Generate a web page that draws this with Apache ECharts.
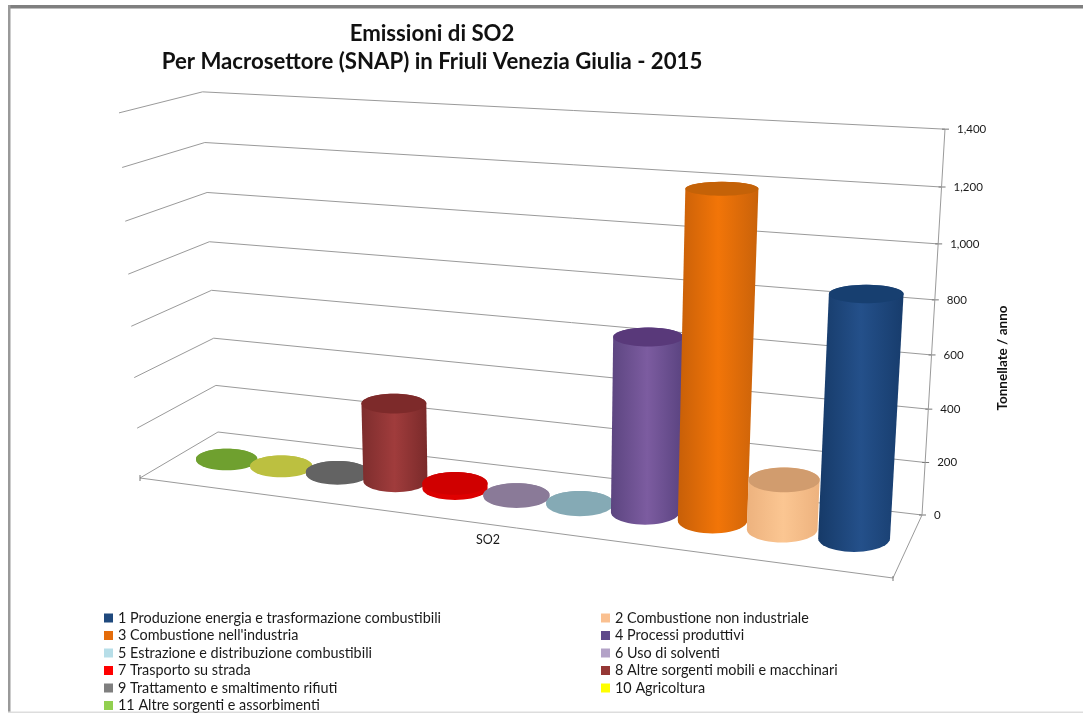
<!DOCTYPE html>
<html><head><meta charset="utf-8">
<style>html,body{margin:0;padding:0;background:#fff}#c{width:1083px;height:713px}</style>
<script src="https://cdn.jsdelivr.net/npm/echarts@6/dist/echarts.min.js"></script>
</head><body><div id="c"></div>
<script>
const categories = ['1 Produzione energia e trasformazione combustibili','2 Combustione non industriale',"3 Combustione nell'industria",'4 Processi produttivi','5 Estrazione e distribuzione combustibili','6 Uso di solventi','7 Trasporto su strada','8 Altre sorgenti mobili e macchinari','9 Trattamento e smaltimento rifiuti','10 Agricoltura','11 Altre sorgenti e assorbimenti'];
const values = [878, 185, 1205, 658, 4, 5, 20, 308, 8, 3, 4];
const yTicks = [0,200,400,600,800,1000,1200,1400];
const yTickLabels = ['0','200','400','600','800','1,000','1,200','1,400'];
const legendColors = ['#1F497D','#FAC090','#E46C0A','#5F4A8B','#B7DEE8','#B3A2C7','#FF0000','#953735','#7F7F7F','#FFFF00','#92D050'];
const sideColors = [['#163A68','#24508A','#173C6C'],['#EDB27E','#FBC692','#EDB27E'],['#C75F08','#F27508','#C9620A'],['#5C4580','#7C5CA0','#5A4380'],['#85AAB5','#85AAB5','#85AAB5'],['#8A7A98','#8A7A98','#8A7A98'],['#D80000','#E00000','#D80000'],['#7D2D2D','#A03C3C','#7A2A2A'],['#636363','#636363','#636363'],['#BCC040','#BCC040','#BCC040'],['#6FA02F','#6FA02F','#6FA02F']];
const capColors = ['#173F70','#D19C6E','#C46208','#59397A','#85AAB5','#8A7A98','#D00000','#7D2A2A','#636363','#BCC040','#6FA02F'];

// Perspective of the 3D box: floor corners on the page, and the vanishing point of the uprights
const floorQuad = [[140,478],[893,578],[922,515],[218,432]]; // front-left, front-right, back-right, back-left
const upVanish = [525,7175];
const riseLeft = -0.0517, riseRight = -0.0497;
const rowDepth = 0.5, radiusU = 0.046, radiusD = 0.22;
const xMin = -0.73, xMax = 10.87;

function homography(q){
  const [p0,p1,p2,p3]=q;
  const dx1=p1[0]-p2[0],dx2=p3[0]-p2[0],sx=p0[0]-p1[0]+p2[0]-p3[0];
  const dy1=p1[1]-p2[1],dy2=p3[1]-p2[1],sy=p0[1]-p1[1]+p2[1]-p3[1];
  const den=dx1*dy2-dx2*dy1;
  const g=(sx*dy2-dx2*sy)/den,h=(dx1*sy-sx*dy1)/den;
  const a=p1[0]-p0[0]+g*p1[0],b=p3[0]-p0[0]+h*p3[0],c=p0[0];
  const d=p1[1]-p0[1]+g*p1[1],e=p3[1]-p0[1]+h*p3[1],f=p0[1];
  return (u,v)=>[a*u+b*v+c,d*u+e*v+f,g*u+h*v+1];
}
const floorH=homography(floorQuad);
function project(u,d,w){
  const [X,Y,W]=floorH(u,d);
  const q=(riseLeft+(riseRight-riseLeft)*u)*w;
  const den=W+q;
  return [(X+q*upVanish[0])/den,(Y+q*upVanish[1])/den];
}
function norm(api,params,x,v){
  const p=api.coord([x,v]),cs=params.coordSys;
  return [(p[0]-cs.x)/cs.width,1-(p[1]-cs.y)/cs.height];
}
function ellipse(u,w){
  const c=project(u,rowDepth,w);
  const l=project(u-radiusU,rowDepth,w),r=project(u+radiusU,rowDepth,w);
  const f=project(u,rowDepth-radiusD,w),b=project(u,rowDepth+radiusD,w);
  return {cx:c[0],cy:c[1],rx:(r[0]-l[0])/2*(1.08-0.17*u),ry:Math.abs(f[1]-b[1])/2};
}
function renderCylinder(idx){
  return function(params,api){
    const [u,w]=norm(api,params,api.value(0),api.value(1));
    const bo=ellipse(u,0),to=ellipse(u,w);
    const c=sideColors[idx];
    const arc=(e,from,to2)=>{const o=[];for(let i=0;i<=24;i++){const a=from+(to2-from)*i/24;o.push([e.cx+e.rx*Math.cos(a),e.cy+e.ry*Math.sin(a)]);}return o;};
    const body=arc(bo,0,Math.PI).concat(arc(to,Math.PI,2*Math.PI));
    return {type:'group',children:[
      {type:'polygon',shape:{points:body},style:{fill:new echarts.graphic.LinearGradient(0,0,1,0,[{offset:0,color:c[0]},{offset:0.5,color:c[1]},{offset:1,color:c[2]}])}},
      {type:'ellipse',shape:{cx:to.cx,cy:to.cy,rx:to.rx,ry:to.ry},style:{fill:capColors[idx]}}
    ]};
  };
}
function renderWall(params,api){
  const [,w]=norm(api,params,0,api.value(1));
  const a=project(0,0,w),b=project(0,1,w),c=project(1,1,w);
  const label=yTickLabels[params.dataIndex];
  return {type:'group',children:[
    {type:'polyline',shape:{points:[a,b,c]},style:{fill:null,stroke:'#9a9a9a',lineWidth:1}},
    {type:'line',shape:{x1:c[0]-3,y1:c[1],x2:c[0]+4,y2:c[1]},style:{stroke:'#777',lineWidth:1}},
    {type:'text',x:c[0]+12,y:c[1],style:{text:label,fill:'#1a1a1a',font:'11.5px Lato, sans-serif',verticalAlign:'middle'}}
  ]};
}
function renderFloor(params,api){
  const fl=project(0,0,0),fr=project(1,0,0),br=project(1,1,0),top=project(1,1,1);
  return {type:'group',children:[
    {type:'polyline',shape:{points:[fl,fr,br,top]},style:{fill:null,stroke:'#9a9a9a',lineWidth:1}},
    {type:'line',shape:{x1:fl[0],y1:fl[1]-3,x2:fl[0],y2:fl[1]+3},style:{stroke:'#777',lineWidth:1}},
    {type:'line',shape:{x1:fr[0],y1:fr[1]-2,x2:fr[0],y2:fr[1]+3},style:{stroke:'#777',lineWidth:1}}
  ]};
}

const cylinderSeries = categories.map((name,i)=>({
  name,type:'custom',coordinateSystem:'cartesian2d',z:3+(categories.length-i),
  itemStyle:{color:legendColors[i]},
  encode:{x:0,y:1},clip:false,silent:true,
  data:[[i,values[i]]],
  renderItem:renderCylinder(i)
}));
const legendBase={orient:'vertical',icon:'rect',itemWidth:9,itemHeight:9,itemGap:3.5,selectedMode:false,padding:0,height:108,
  textStyle:{fontFamily:'Lato, sans-serif',fontSize:14.4,color:'#1a1a1a',lineHeight:14}};

const chart=echarts.init(document.getElementById('c'),null,{renderer:'canvas'});
chart.setOption({
  animation:false,backgroundColor:'#fff',
  title:{text:'Emissioni di SO2\nPer Macrosettore (SNAP) in Friuli Venezia Giulia - 2015',left:427,top:15,textAlign:'center',
    textStyle:{fontFamily:'Lato, sans-serif',fontSize:22.2,fontWeight:'bold',color:'#111',lineHeight:28}},
  grid:{left:0,right:0,top:0,bottom:0},
  xAxis:{type:'value',inverse:true,min:xMin,max:xMax,show:false},
  yAxis:{type:'value',min:0,max:1400,interval:200,show:false},
  legend:[
    Object.assign({left:104,top:611,data:categories.filter((_,i)=>i%2===0)},legendBase),
    Object.assign({left:601,top:611,data:categories.filter((_,i)=>i%2===1)},legendBase)
  ],
  graphic:[
    {type:'rect',z:0,shape:{x:8,y:5,width:1075,height:3.5},style:{fill:'#7f7f7f'}},
    {type:'rect',z:0,shape:{x:8,y:5,width:2.5,height:708},style:{fill:'#999999'}},
    {type:'rect',z:0,shape:{x:8,y:711.5,width:1075,height:1.5},style:{fill:'#dddddd'}},
    {type:'text',left:476,top:533,z:5,style:{text:'SO2',fill:'#1a1a1a',font:'12.5px Lato, sans-serif'}},
    {type:'text',x:1003,y:358,rotation:Math.PI/2,z:5,style:{text:'Tonnellate / anno',fill:'#111',font:'bold 13.5px Lato, sans-serif',align:'center',verticalAlign:'middle'}}
  ],
  series:[
    {name:'wall',type:'custom',z:1,silent:true,clip:false,data:yTicks.map(v=>[0,v]),encode:{x:0,y:1},renderItem:renderWall},
    {name:'floor',type:'custom',z:2,silent:true,clip:false,data:[[0,0]],encode:{x:0,y:1},renderItem:renderFloor}
  ].concat(cylinderSeries)
});
</script></body></html>
